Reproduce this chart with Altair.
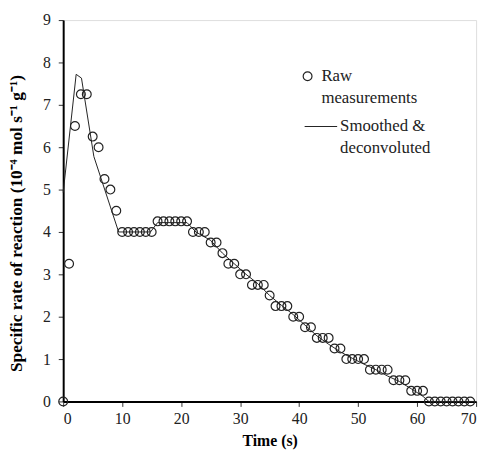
import altair as alt
import pandas as pd

# Raw measurements (1 s sampling)
raw_t = list(range(0, 70))
raw_v = [0, 3.25, 6.5, 7.25, 7.25, 6.25, 6.0, 5.25, 5.0, 4.5,
         4.0, 4.0, 4.0, 4.0, 4.0, 4.0,
         4.25, 4.25, 4.25, 4.25, 4.25, 4.25,
         4.0, 4.0, 4.0,
         3.75, 3.75,
         3.5,
         3.25, 3.25,
         3.0, 3.0,
         2.75, 2.75, 2.75,
         2.5,
         2.25, 2.25, 2.25,
         2.0, 2.0,
         1.75, 1.75,
         1.5, 1.5, 1.5,
         1.25, 1.25,
         1.0, 1.0, 1.0, 1.0,
         0.75, 0.75, 0.75, 0.75,
         0.5, 0.5, 0.5,
         0.25, 0.25, 0.25,
         0, 0, 0, 0, 0, 0, 0, 0]

# Smoothed & deconvoluted curve
sm_t = [0, 2.2, 3.1, 5.2, 9.4, 14.8, 16.0, 21.0, 22.5, 25, 27, 29, 31, 33, 35, 37, 39,
        41, 43, 45, 47, 49, 51, 53, 55, 57, 59, 61, 62, 70]
sm_v = [4.93, 7.72, 7.63, 5.78, 4.0, 4.0, 4.22, 4.22, 4.0, 3.8, 3.5, 3.25, 3.0, 2.78, 2.5,
        2.27, 2.05, 1.8, 1.55, 1.35, 1.17, 1.02, 0.88, 0.75, 0.6, 0.47, 0.3, 0.12, 0, 0]

x_ticks = [0, 10, 20, 30, 40, 50, 60, 70]
y_ticks = [0, 1, 2, 3, 4, 5, 6, 7, 8, 9]

raw = pd.DataFrame({"t": raw_t, "v": raw_v})
sm = pd.DataFrame({"t": sm_t, "v": sm_v})

FONT = "Liberation Serif, Times New Roman, Times, serif"
INK = "#222222"

xscale = alt.Scale(domain=[0, 70], nice=False, zero=False)
yscale = alt.Scale(domain=[0, 9], nice=False, zero=False)

xaxis = alt.Axis(values=x_ticks, title="Time (s)", grid=False, tickSize=5,
                 labelPadding=4, labelFontSize=16, labelFont=FONT, labelColor=INK,
                 titleFont=FONT, titleFontSize=16, titleFontWeight="bold", titleColor="#000",
                 titleY=40, titleBaseline="middle",
                 domainColor="#000", domainWidth=2, tickColor="#333", tickWidth=1)
yaxis = alt.Axis(values=y_ticks, title="Specific rate of reaction (10⁻⁴ mol s⁻¹ g⁻¹)",
                 grid=False, tickSize=5, labelPadding=8, labelFontSize=16, labelFont=FONT,
                 labelColor=INK, titleFont=FONT, titleFontSize=17.5, titleFontWeight="bold",
                 titleColor="#000", titleX=-47, titleY=206, titleBaseline="middle",
                 titleAlign="center", titleAngle=-90,
                 domainColor="#000", domainWidth=2, tickColor="#333", tickWidth=1)

line = alt.Chart(sm).mark_line(color="#222", strokeWidth=1).encode(
    x=alt.X("t:Q", scale=xscale, axis=xaxis),
    y=alt.Y("v:Q", scale=yscale, axis=yaxis),
)

pts = alt.Chart(raw).mark_point(shape="circle", filled=False, color="#222",
                                strokeWidth=1.2, size=80, opacity=1).encode(
    x=alt.X("t:Q", scale=xscale),
    y=alt.Y("v:Q", scale=yscale),
)

leg_font = dict(font=FONT, fontSize=17, color="#222", align="left", baseline="middle")
leg_pt = alt.Chart(raw.head(1)).mark_point(shape="circle", filled=False, color="#222",
                                           strokeWidth=1.2, size=80, opacity=1).encode(
    x=alt.value(248), y=alt.value(57))
leg_t1 = alt.Chart(raw.head(1)).mark_text(text="Raw", **leg_font).encode(
    x=alt.value(262), y=alt.value(57))
leg_t2 = alt.Chart(raw.head(1)).mark_text(text="measurements", **leg_font).encode(
    x=alt.value(262), y=alt.value(79))
leg_ln = alt.Chart(raw.head(1)).mark_rule(color="#222", strokeWidth=1).encode(
    x=alt.value(245), x2=alt.value(278), y=alt.value(108))
leg_t3 = alt.Chart(raw.head(1)).mark_text(text="Smoothed &", **leg_font).encode(
    x=alt.value(281), y=alt.value(108))
leg_t4 = alt.Chart(raw.head(1)).mark_text(text="deconvoluted", **leg_font).encode(
    x=alt.value(281), y=alt.value(130))

chart = alt.layer(line, pts, leg_pt, leg_t1, leg_t2, leg_ln, leg_t3, leg_t4).properties(
    width=419, height=387,
    autosize=alt.AutoSizeParams(type="none"),
    padding={"left": 56, "top": 9, "right": 7, "bottom": 46},
).configure_view(stroke="#888", strokeWidth=1).configure(background="white", font=FONT)

chart.save("out.html", embed_options={"renderer": "svg", "actions": False})
